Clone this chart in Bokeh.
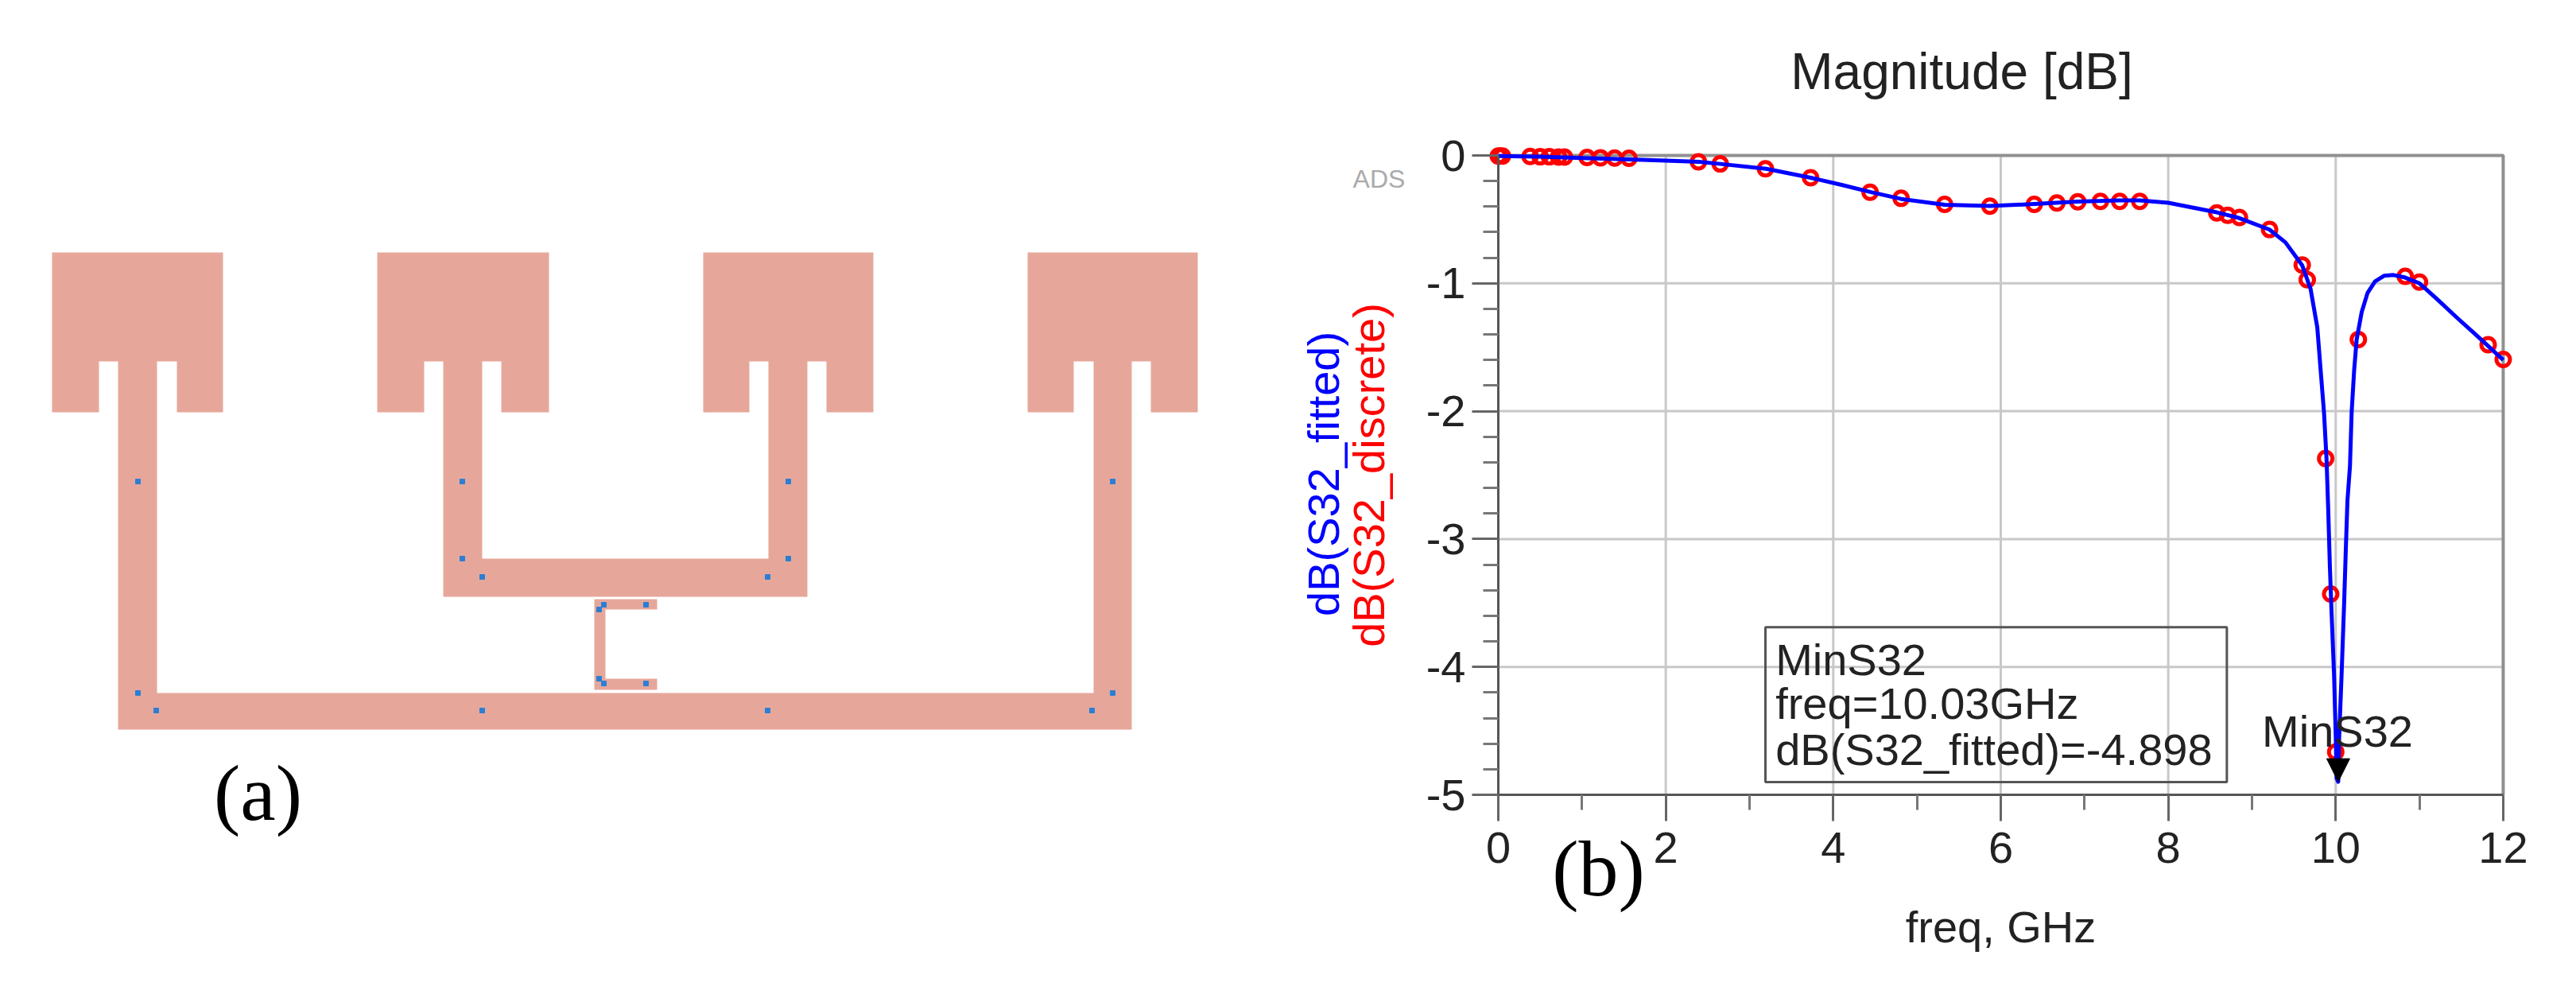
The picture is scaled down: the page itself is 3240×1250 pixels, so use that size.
from bokeh.core.properties import value
from bokeh.embed import file_html
from bokeh.layouts import row
from bokeh.models import Arrow, FixedTicker, Label, NormalHead, Range1d
from bokeh.plotting import figure
from bokeh.resources import INLINE
import math

# (a) layout outlines, in picture pixels
outer_x = [65, 280, 280, 222, 222, 197, 197, 1375, 1375, 1350, 1350, 1292, 1292, 1506, 1506, 1447, 1447, 1423, 1423, 148, 148, 124, 124, 65]
outer_y = [317, 317, 518, 518, 454, 454, 871, 871, 454, 454, 518, 518, 317, 317, 518, 518, 454, 454, 917, 917, 454, 454, 518, 518]
inner_x = [474, 690, 690, 630, 630, 606, 606, 966, 966, 942, 942, 884, 884, 1098, 1098, 1039, 1039, 1015, 1015, 557, 557, 533, 533, 474]
inner_y = [317, 317, 518, 518, 454, 454, 702, 702, 454, 454, 518, 518, 317, 317, 518, 518, 454, 454, 750, 750, 454, 454, 518, 518]
stub_x = [826, 747, 747, 826, 826, 761, 761, 826]
stub_y = [753, 753, 867, 867, 853, 853, 766, 766]
port_x = [173, 581, 991, 1399, 581, 991, 606, 965, 759, 812, 753, 753, 759, 812, 173, 1399, 196, 606, 965, 1373]
port_y = [605, 605, 605, 605, 702, 702, 725, 725, 760, 760, 766, 853, 859, 859, 871, 871, 893, 893, 893, 893]

# (b) S32 response
freq_discrete = [0.0, 0.02, 0.05, 0.38, 0.50, 0.61, 0.72, 0.79, 1.06, 1.22, 1.39, 1.56, 2.39, 2.65, 3.19, 3.73,
                 4.44, 4.81, 5.33, 5.87, 6.40, 6.67, 6.92, 7.19, 7.42, 7.66, 8.58, 8.71, 8.85, 9.21, 9.60, 9.66,
                 9.88, 9.94, 10.0, 10.27, 10.83, 11.0, 11.82, 12.0]
s32_discrete = [-0.005, -0.005, -0.005, -0.008, -0.01, -0.01, -0.012, -0.012, -0.015, -0.018, -0.02, -0.022, -0.05, -0.066, -0.104, -0.174,
                -0.288, -0.335, -0.383, -0.397, -0.383, -0.371, -0.362, -0.359, -0.359, -0.359, -0.449, -0.468, -0.485, -0.579, -0.857, -0.972,
                -2.37, -3.43, -4.665, -1.439, -0.945, -0.99, -1.48, -1.595]
freq_fitted = [0.0, 0.5, 1.0, 1.5, 2.0, 2.4, 2.65, 3.2, 3.73, 4.1, 4.44, 4.81, 5.33, 5.87, 6.4, 6.92, 7.42, 7.66, 8.0, 8.58, 8.85,
               9.21, 9.4, 9.6, 9.66, 9.70, 9.78, 9.82, 9.86, 9.89, 9.91, 9.93, 9.95, 9.98, 10.0, 10.01, 10.03, 10.04, 10.07, 10.10,
               10.12, 10.14, 10.17, 10.19, 10.22, 10.25, 10.31, 10.38, 10.47, 10.58, 10.69, 10.83, 11.0, 11.22, 11.45, 11.67, 11.82, 12.0]
s32_fitted = [-0.005, -0.01, -0.02, -0.03, -0.04, -0.05, -0.066, -0.104, -0.174, -0.23, -0.285, -0.34, -0.385, -0.395, -0.38, -0.36, -0.352, -0.352, -0.37, -0.445, -0.49,
              -0.58, -0.68, -0.86, -0.97, -1.045, -1.345, -1.68, -2.01, -2.37, -2.76, -3.21, -3.57, -4.06, -4.54, -4.87, -4.898, -4.57, -4.06, -3.51,
              -3.09, -2.70, -2.43, -2.01, -1.68, -1.44, -1.225, -1.075, -0.985, -0.94, -0.935, -0.955, -1.0, -1.13, -1.27, -1.40, -1.49, -1.6]
min_freq = 10.03
min_db = -4.898

x_ticks = [0, 2, 4, 6, 8, 10, 12]
x_minor = [1, 3, 5, 7, 9, 11]
y_ticks = [0, -1, -2, -3, -4, -5]
y_tick_labels = ["0", "-1", "-2", "-3", "-4", "-5"]
y_minor = [-0.2, -0.4, -0.6, -0.8, -1.2, -1.4, -1.6, -1.8, -2.2, -2.4, -2.6, -2.8, -3.2, -3.4, -3.6, -3.8, -4.2, -4.4, -4.6, -4.8]
marker_lines = ["MinS32", "freq=10.03GHz", "dB(S32_fitted)=-4.898"]
marker_line_y = [-3.945, -4.285, -4.647]

SANS = "Liberation Sans"
SERIF = "Liberation Serif"
TEXT = "#222222"

left = figure(width=1560, height=1234, x_range=Range1d(0, 1560), y_range=Range1d(1234, 0),
              x_axis_type=None, y_axis_type=None, toolbar_location=None, output_backend="svg",
              min_border=0, outline_line_color=None)
left.patches([outer_x, inner_x, stub_x], [outer_y, inner_y, stub_y], fill_color="#e6a79a", line_color=None)
left.scatter(port_x, port_y, marker="square", size=6, color="#2a7fd5")
left.add_layout(Label(x=324, y=997, text="(a)", text_align="center", text_baseline="alphabetic", text_font=SERIF,
                      text_font_size="100px", text_color="black"))

# the frame fills the whole canvas: anything outside it would be clipped, so the axes sit inside at fixed places
p = figure(width=1664, height=1234, x_range=Range1d(-3.076, 12.722), y_range=Range1d(-6.4614, 1.2127),
           toolbar_location=None, output_backend="svg", outline_line_color=None, min_border=0)

p.xaxis.ticker = FixedTicker(ticks=x_ticks, minor_ticks=x_minor)
p.xaxis.bounds = (0, 12)
p.xaxis.fixed_location = -5
p.xaxis.axis_label = "freq, GHz"
p.xaxis.axis_label_text_font = SANS
p.xaxis.axis_label_text_font_size = "56px"
p.xaxis.axis_label_text_font_style = "normal"
p.xaxis.axis_label_text_color = TEXT
p.xaxis.axis_label_standoff = 46

p.yaxis.ticker = FixedTicker(ticks=y_ticks, minor_ticks=y_minor)
p.yaxis.bounds = (-5, 0)
p.yaxis.fixed_location = 0
p.yaxis.major_label_overrides = dict(zip(y_ticks, y_tick_labels))

for ax in [p.xaxis, p.yaxis]:
    ax.major_label_text_font = SANS
    ax.major_label_text_font_size = "56px"
    ax.major_label_text_color = TEXT
    ax.major_tick_in = 0
    ax.major_tick_out = 33
    ax.minor_tick_in = 0
    ax.minor_tick_out = 19
    ax.axis_line_color = "#555555"
    ax.axis_line_width = 3
    ax.major_tick_line_color = "#666666"
    ax.major_tick_line_width = 3
    ax.minor_tick_line_color = "#777777"
    ax.minor_tick_line_width = 3
p.xaxis.major_label_standoff = 14
p.yaxis.major_label_standoff = 8

# grid lines stop at the axes, which the Grid model can't do
p.grid.visible = False
p.segment(x_ticks, y_ticks[-1], x_ticks, y_ticks[0], line_color="#c8c8c8", line_width=3)
p.segment(x_ticks[0], y_ticks, x_ticks[-1], y_ticks, line_color="#c8c8c8", line_width=3)
p.line([x_ticks[0], x_ticks[-1], x_ticks[-1]], [y_ticks[0], y_ticks[0], y_ticks[-1]], line_color="#909090", line_width=4)

p.quad(left=[3.19], right=[8.70], top=[-3.69], bottom=[-4.90], fill_color=None, line_color="#555555", line_width=3)

p.scatter(freq_discrete, s32_discrete, marker="circle", size=17, fill_color=None, line_color="#ff0000", line_width=5)
p.line(freq_fitted, s32_fitted, line_color="#0000ff", line_width=5, line_join="round")

p.text([3.31] * 3, marker_line_y, text=marker_lines, text_font=value(SANS), text_font_size="56px",
       text_color=TEXT, text_baseline="alphabetic")
p.add_layout(Label(x=9.12, y=-4.505, text="MinS32", text_baseline="alphabetic", text_font=SANS,
                   text_font_size="56px", text_color=TEXT))
p.add_layout(Arrow(end=NormalHead(size=29, fill_color="black", line_color="black"), line_color="black",
                   x_start=min_freq, y_start=-4.72, x_end=min_freq, y_end=min_db))

p.add_layout(Label(x=5.535, y=0.657, text="Magnitude [dB]", text_align="center", text_baseline="alphabetic",
                   text_font=SANS, text_font_size="64px", text_color=TEXT))
p.add_layout(Label(x=-2.09, y=-2.49, text="dB(S32_fitted)", angle=math.pi / 2, text_align="center", text_baseline="alphabetic",
                   text_font=SANS, text_font_size="56px", text_color="#0000ff"))
p.add_layout(Label(x=-1.55, y=-2.5, text="dB(S32_discrete)", angle=math.pi / 2, text_align="center", text_baseline="alphabetic",
                   text_font=SANS, text_font_size="56px", text_color="#ff0000"))
p.add_layout(Label(x=-1.424, y=-0.185, text="ADS", text_align="center", text_baseline="alphabetic", text_font=SANS,
                   text_font_size="32px", text_color="#aaaaaa"))
p.add_layout(Label(x=1.196, y=-5.581, text="(b)", text_align="center", text_baseline="alphabetic", text_font=SERIF,
                   text_font_size="100px", text_color="black"))

open("out.html", "w").write(file_html(row(left, p), INLINE))
